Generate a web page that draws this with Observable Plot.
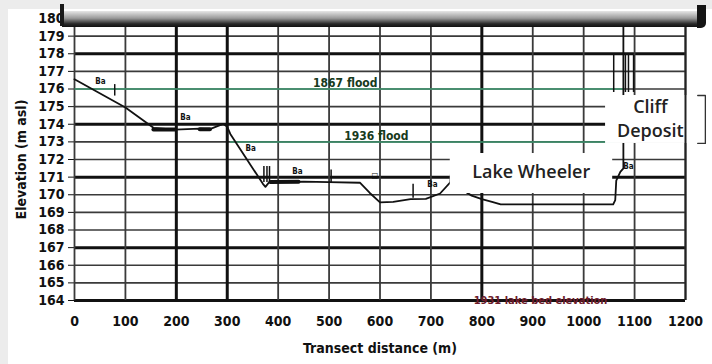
<!DOCTYPE html>
<html>
<head>
<meta charset="utf-8">
<script src="https://cdn.jsdelivr.net/npm/d3@7"></script>
<script src="https://cdn.jsdelivr.net/npm/@observablehq/plot@0.6"></script>
<style>
  html, body { margin: 0; padding: 0; background: #ffffff; }
  #wrap { position: relative; width: 712px; height: 364px; overflow: hidden; background: #ffffff; }
  #wrap svg { position: absolute; left: 0; top: 0; }
  .edgeL { position: absolute; left: 0; top: 0; width: 8px; height: 364px; background: #ececec; }
  .edgeT { position: absolute; left: 0; top: 0; width: 712px; height: 9px; background: #ececec; }
  .bar { position: absolute; left: 62px; top: 11px; width: 642px; height: 16px;
         background: linear-gradient(to bottom, #e6e6e6 0%, #9a9a9a 45%, #2a2a2a 80%, #111 100%); }
  .spikeL { position: absolute; left: 60px; top: 4px; width: 4px; height: 22px; background: #1a1a1a; }
  .spikeR { position: absolute; left: 697px; top: 5px; width: 9px; height: 23px; background: #151515; border-bottom-right-radius: 5px; }
</style>
</head>
<body>
<div id="wrap">
  <div class="edgeL"></div>
  <div class="edgeT"></div>
</div>
<script>
// ---- data ----
const xTicks = [0, 100, 200, 300, 400, 500, 600, 700, 800, 900, 1000, 1100, 1200];
const xThick = [200, 300, 800];
const yTicks = [164, 165, 166, 167, 168, 169, 170, 171, 172, 173, 174, 175, 176, 177, 178, 179, 180];
const yThick = [164, 167, 171, 174, 178];

// ground profile along transect (distance m, elevation m asl)
const profileX = [0, 100, 155, 197, 246, 266, 292, 300, 306, 370, 375, 382, 450, 500, 561, 580, 600, 626, 660, 690, 718, 738, 741, 760, 764, 780, 800, 820, 837, 1058, 1062, 1064, 1072, 1078, 1078];
const profileY = [176.55, 174.95, 173.8, 173.7, 173.75, 173.72, 174.02, 173.85, 173.45, 170.62, 170.45, 170.7, 170.75, 170.72, 170.68, 170.1, 169.57, 169.6, 169.75, 169.77, 170.07, 170.7, 171.9, 170.4, 170.24, 169.95, 169.75, 169.6, 169.45, 169.45, 169.7, 170.8, 171.3, 171.5, 180];

// heavier profile segments
const thickSeg = ["a", "a", "b", "b", "c", "c"];
const thickX = [155, 197, 246, 266, 385, 440];
const thickY = [173.7, 173.7, 173.72, 173.72, 170.72, 170.74];

// small vertical markers on the profile
const tickX = [79, 372, 378, 383, 504, 665, 741, 1059, 1082, 1088, 1098];
const tickTop = [176.25, 171.6, 171.6, 171.6, 171.4, 170.6, 172.0, 177.9, 177.9, 177.9, 177.9];
const tickBot = [175.6, 170.7, 170.7, 170.7, 170.7, 169.8, 171.6, 175.8, 175.8, 175.8, 175.8];

// sample-site labels
const siteX = [51, 218, 346, 438, 590, 703, 1088];
const siteY = [176.25, 174.2, 172.4, 171.1, 170.9, 170.4, 171.4];
const siteLabel = ["Ba", "Ba", "Ba", "Ba", "\u25A1", "Ba", "Ba"];

// flood levels
const floodName = ["1867 flood", "1936 flood"];
const floodLevel = [176, 173];
const floodStart = [0, 305];
const floodEnd = [1080, 1060];
const floodLabelX = [595, 656];

// annotations
const lakeLabel = "Lake Wheeler";
const cliffLines = ["Cliff", "Deposit"];
const baseLabel = "1931 lake bed elevation";

// ---- build ----
const profile = profileX.map((x, i) => ({x, y: profileY[i]}));
const thick = thickX.map((x, i) => ({x, y: thickY[i], g: thickSeg[i]}));
const ticks = tickX.map((x, i) => ({x, y1: tickBot[i], y2: tickTop[i]}));
const sites = siteX.map((x, i) => ({x, y: siteY[i], t: siteLabel[i]}));
const floods = floodName.map((n, i) => ({n, y: floodLevel[i], x1: floodStart[i], x2: floodEnd[i], lx: floodLabelX[i]}));
const yThin = yTicks.filter(v => !yThick.includes(v) && v !== 180);
const xThin = xTicks.filter(v => !xThick.includes(v));

const lakeBox = [{x1: 738, x2: 1057, y1: 170.07, y2: 172.34}];
const cliffBox = [{x1: 1043, x2: 1224, y1: 172.91, y2: 175.63}];
const bracket = [{x: 1224, y: 175.63}, {x: 1239, y: 175.63}, {x: 1239, y: 172.91}, {x: 1224, y: 172.91}];

const font = "'Liberation Sans Narrow', 'Arial Narrow', 'DejaVu Sans Condensed', sans-serif";

const chart = Plot.plot({
  width: 712,
  height: 364,
  marginLeft: 74,
  marginRight: 27,
  marginTop: 18,
  marginBottom: 64,
  style: {fontFamily: font, fontSize: "14px", fontWeight: "bold", color: "#111", background: "transparent", overflow: "visible"},
  x: {domain: [0, 1200], ticks: xTicks, tickFormat: d => String(d), tickSize: 0, tickPadding: 16, label: "Transect distance (m)", labelAnchor: "center", labelOffset: 52, labelArrow: "none"},
  y: {domain: [164, 180], ticks: yTicks, tickFormat: d => String(d), tickSize: 6, tickPadding: 4, label: "Elevation (m asl)", labelAnchor: "center", labelOffset: 58, labelArrow: "none"},
  marks: [
    Plot.ruleY(yThin, {stroke: "#3a3a3a", strokeWidth: 1.6}),
    Plot.ruleY(yThick, {stroke: "#111", strokeWidth: 3}),
    Plot.ruleX(xThin, {stroke: "#3a3a3a", strokeWidth: 1.8}),
    Plot.ruleX(xThick, {stroke: "#111", strokeWidth: 3}),
    Plot.link(floods, {x1: "x1", x2: "x2", y1: "y", y2: "y", stroke: "#3f9a72", strokeWidth: 1.5}),
    Plot.text(floods, {x: "lx", y: "y", text: "n", textAnchor: "end", lineAnchor: "bottom", dy: -2, fill: "#173a1c", fontSize: 12, fontWeight: "bold"}),
    Plot.ruleX(ticks, {x: "x", y1: "y1", y2: "y2", stroke: "#111", strokeWidth: 1.5}),
    Plot.line(profile, {x: "x", y: "y", stroke: "#111", strokeWidth: 1.8}),
    Plot.line(thick, {x: "x", y: "y", z: "g", stroke: "#111", strokeWidth: 4}),
    Plot.text(sites, {x: "x", y: "y", text: "t", fontSize: 8, fontWeight: "bold", fill: "#111", lineAnchor: "bottom", dy: -1}),
    Plot.text([baseLabel], {x: 784, y: 164, text: d => d, textAnchor: "start", fill: "#6e1c2b", fontSize: 11, fontWeight: "bold"}),
    Plot.rect(lakeBox, {x1: "x1", x2: "x2", y1: "y1", y2: "y2", fill: "white"}),
    Plot.text([lakeLabel], {x: 897, y: 171.26, text: d => d, fontFamily: "'Open Sans', sans-serif", fontSize: 18, fontWeight: 600, fill: "#222"}),
    Plot.rect(cliffBox, {x1: "x1", x2: "x2", y1: "y1", y2: "y2", fill: "white"}),
    Plot.text([cliffLines[0]], {x: 1131, y: 174.95, text: d => d, fontFamily: "'Open Sans', sans-serif", fontSize: 18, fontWeight: 600, fill: "#222"}),
    Plot.text([cliffLines[1]], {x: 1131, y: 173.6, text: d => d, fontFamily: "'Open Sans', sans-serif", fontSize: 18, fontWeight: 600, fill: "#222"}),
    Plot.line(bracket, {x: "x", y: "y", stroke: "#333", strokeWidth: 1.3}),
    Plot.ruleX([1200], {stroke: "#222", strokeWidth: 2})
  ]
});

const wrap = document.getElementById("wrap");
wrap.appendChild(chart);
for (const cls of ["bar", "spikeL", "spikeR"]) {
  const d = document.createElement("div");
  d.className = cls;
  wrap.appendChild(d);
}
</script>
</body>
</html>
